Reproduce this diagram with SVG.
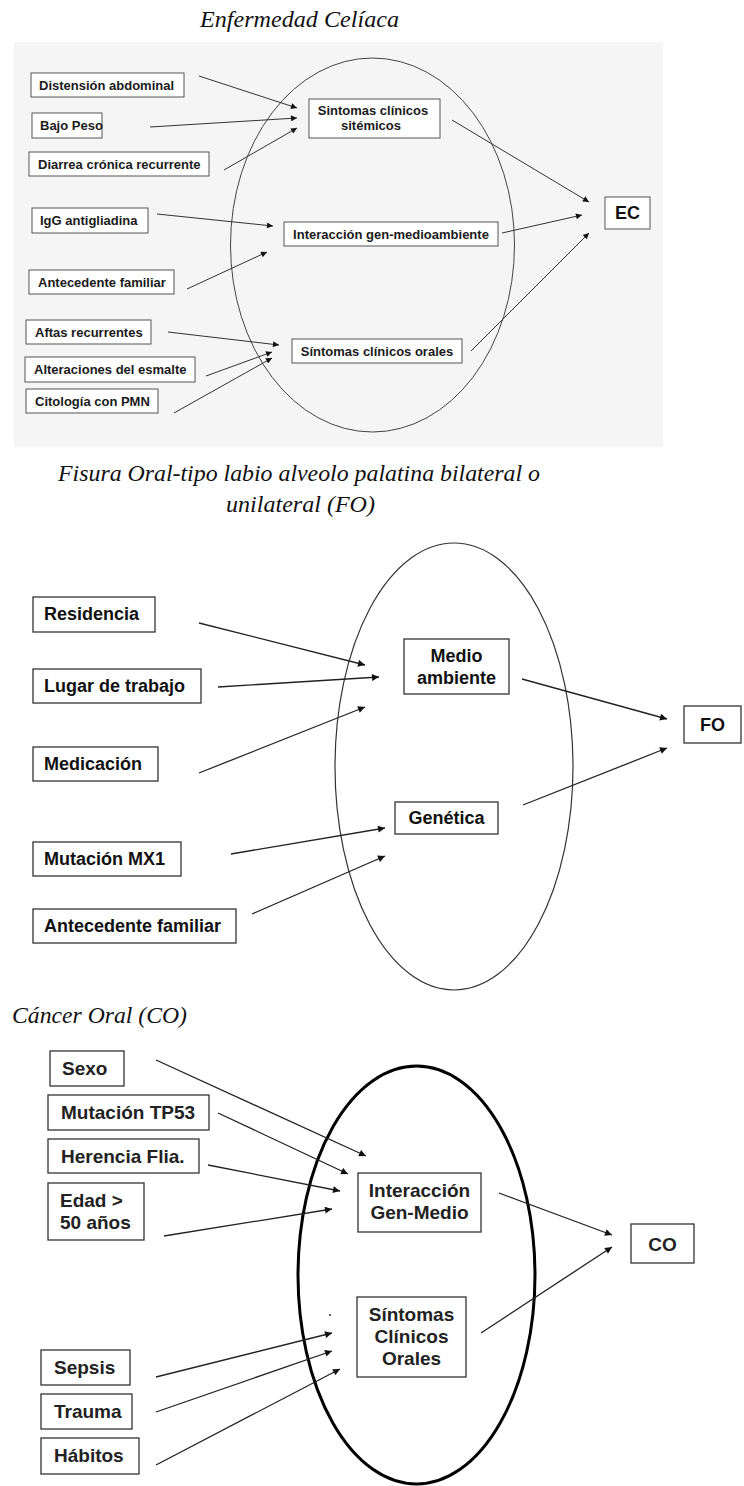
<svg xmlns="http://www.w3.org/2000/svg" width="744" height="1486" viewBox="0 0 744 1486">
<defs>
<style>
.title{font-family:"Liberation Serif","Times New Roman",serif;font-style:italic;font-size:24px;fill:#111}
.b1{fill:#fff;stroke:#555;stroke-width:1}
.b2{fill:#fff;stroke:#333;stroke-width:1.3}
.t1{font-family:"Liberation Sans",Arial,sans-serif;font-weight:bold;font-size:13px;fill:#1a1a1a}
.t2{font-family:"Liberation Sans",Arial,sans-serif;font-weight:bold;font-size:18px;fill:#111}
.t3{font-family:"Liberation Sans",Arial,sans-serif;font-weight:bold;font-size:19px;fill:#222}
.c{text-anchor:middle}
.a1{stroke:#333;stroke-width:1;fill:none;marker-end:url(#ah1)}
.a2{stroke:#222;stroke-width:1.3;fill:none;marker-end:url(#ah2)}
</style>
<marker id="ah1" viewBox="0 0 10 10" refX="10" refY="5" markerWidth="8" markerHeight="6" markerUnits="userSpaceOnUse" orient="auto"><path d="M0,0 L10,5 L0,10 z" fill="#111"/></marker>
<marker id="ah2" viewBox="0 0 10 10" refX="10" refY="5" markerWidth="10" markerHeight="7" markerUnits="userSpaceOnUse" orient="auto"><path d="M0,0 L10,5 L0,10 z" fill="#111"/></marker>
</defs>
<rect x="0" y="0" width="744" height="1486" fill="#fff"/>

<!-- Section 1: Enfermedad Celíaca -->
<text class="title" x="200" y="27" textLength="199" lengthAdjust="spacingAndGlyphs">Enfermedad Celíaca</text>
<rect x="14" y="42" width="649" height="405" fill="#f5f5f5"/>
<ellipse cx="372.5" cy="245" rx="142" ry="187" fill="none" stroke="#444" stroke-width="1"/>

<g id="connectors1">
<line class="a1" x1="199" y1="76" x2="297" y2="108"/>
<line class="a1" x1="150" y1="127" x2="297" y2="118"/>
<line class="a1" x1="224" y1="170" x2="297" y2="128"/>
<line class="a1" x1="157" y1="214" x2="273" y2="226"/>
<line class="a1" x1="187" y1="289" x2="267" y2="252"/>
<line class="a1" x1="168" y1="332" x2="279" y2="345"/>
<line class="a1" x1="206" y1="376" x2="272" y2="352"/>
<line class="a1" x1="174" y1="413" x2="272" y2="358"/>
<line class="a1" x1="452" y1="120" x2="589" y2="202"/>
<line class="a1" x1="502" y1="233" x2="582" y2="215"/>
<line class="a1" x1="471" y1="351" x2="589" y2="233"/>
</g>

<g id="n1-distension"><rect class="b1" x="31" y="73" width="153" height="24"/><text class="t1" x="39" y="90">Distensión abdominal</text></g>
<g id="n1-bajopeso"><rect class="b1" x="32" y="113" width="70" height="25"/><text class="t1" x="40" y="130">Bajo Peso</text></g>
<g id="n1-diarrea"><rect class="b1" x="29" y="152" width="180" height="24"/><text class="t1" x="38" y="169">Diarrea crónica recurrente</text></g>
<g id="n1-igg"><rect class="b1" x="32" y="208" width="116" height="25"/><text class="t1" x="40" y="225">IgG antigliadina</text></g>
<g id="n1-antecedente"><rect class="b1" x="29" y="270" width="145" height="24"/><text class="t1" x="38" y="287">Antecedente familiar</text></g>
<g id="n1-aftas"><rect class="b1" x="26" y="320" width="125" height="24"/><text class="t1" x="35" y="337">Aftas recurrentes</text></g>
<g id="n1-alteraciones"><rect class="b1" x="25" y="357" width="170" height="25"/><text class="t1" x="34" y="374">Alteraciones del esmalte</text></g>
<g id="n1-citologia"><rect class="b1" x="26" y="389" width="132" height="24"/><text class="t1" x="35" y="406">Citología con PMN</text></g>
<g id="n1-sistemicos"><rect class="b1" x="309" y="99" width="131" height="39"/><text class="t1 c" x="373" y="115">Sintomas clínicos</text><text class="t1 c" x="371" y="130">sitémicos</text></g>
<g id="n1-interaccion"><rect class="b1" x="284" y="222" width="214" height="24"/><text class="t1 c" x="391" y="239">Interacción gen-medioambiente</text></g>
<g id="n1-orales"><rect class="b1" x="292" y="339" width="170" height="24"/><text class="t1 c" x="377" y="356">Síntomas clínicos orales</text></g>
<g id="n1-ec"><rect class="b1" x="605" y="197" width="45" height="32"/><text class="t2 c" x="627.5" y="219">EC</text></g>

<!-- Section 2: Fisura Oral -->
<text class="title" x="58" y="481" textLength="482" lengthAdjust="spacingAndGlyphs">Fisura Oral-tipo labio alveolo palatina bilateral o</text>
<text class="title" x="226" y="512" textLength="149" lengthAdjust="spacingAndGlyphs">unilateral (FO)</text>
<ellipse cx="454" cy="766.5" rx="119" ry="223.5" fill="none" stroke="#333" stroke-width="1.2"/>

<g id="connectors2">
<line class="a2" x1="199" y1="623" x2="365" y2="665"/>
<line class="a2" x1="218" y1="687" x2="379" y2="677"/>
<line class="a2" x1="199" y1="773" x2="365" y2="707"/>
<line class="a2" x1="231" y1="854" x2="385" y2="828"/>
<line class="a2" x1="252" y1="914" x2="385" y2="856"/>
<line class="a2" x1="522" y1="679" x2="667" y2="719"/>
<line class="a2" x1="523" y1="805" x2="667" y2="748"/>
</g>

<g id="n2-residencia"><rect class="b2" x="33" y="597" width="122" height="35"/><text class="t2" x="44" y="620">Residencia</text></g>
<g id="n2-lugar"><rect class="b2" x="33" y="669" width="168" height="34"/><text class="t2" x="44" y="692">Lugar de trabajo</text></g>
<g id="n2-medicacion"><rect class="b2" x="33" y="747" width="125" height="34"/><text class="t2" x="44" y="770">Medicación</text></g>
<g id="n2-mutacion"><rect class="b2" x="33" y="842" width="148" height="34"/><text class="t2" x="44" y="865">Mutación MX1</text></g>
<g id="n2-antecedente"><rect class="b2" x="33" y="909" width="203" height="34"/><text class="t2" x="44" y="932">Antecedente familiar</text></g>
<g id="n2-medio"><rect class="b2" x="404" y="639" width="105" height="55"/><text class="t2 c" x="456.5" y="662">Medio</text><text class="t2 c" x="456.5" y="684">ambiente</text></g>
<g id="n2-genetica"><rect class="b2" x="395" y="802" width="103" height="32"/><text class="t2 c" x="446.5" y="824">Genética</text></g>
<g id="n2-fo"><rect class="b2" x="684" y="706" width="57" height="37"/><text class="t2 c" x="712.5" y="731">FO</text></g>

<!-- Section 3: Cáncer Oral -->
<text class="title" x="12" y="1023" textLength="175" lengthAdjust="spacingAndGlyphs">Cáncer Oral (CO)</text>
<ellipse cx="416.5" cy="1275" rx="118.5" ry="209" fill="none" stroke="#000" stroke-width="3"/>

<g id="connectors3">
<line class="a2" x1="156" y1="1060" x2="366" y2="1156"/>
<line class="a2" x1="218" y1="1113" x2="348" y2="1174"/>
<line class="a2" x1="208" y1="1165" x2="340" y2="1191"/>
<line class="a2" x1="164" y1="1236" x2="332" y2="1209"/>
<line class="a2" x1="156" y1="1377" x2="332" y2="1333"/>
<line class="a2" x1="156" y1="1412" x2="332" y2="1351"/>
<line class="a2" x1="156" y1="1465" x2="340" y2="1369"/>
<line class="a2" x1="499" y1="1193" x2="612" y2="1235"/>
<line class="a2" x1="481" y1="1333" x2="612" y2="1247"/>
</g>
<circle cx="330" cy="1315" r="1" fill="#333"/>

<g id="n3-sexo"><rect class="b2" x="50" y="1051" width="74" height="35"/><text class="t3" x="62" y="1075">Sexo</text></g>
<g id="n3-tp53"><rect class="b2" x="48" y="1095" width="161" height="35"/><text class="t3" x="61" y="1119">Mutación TP53</text></g>
<g id="n3-herencia"><rect class="b2" x="48" y="1139" width="151" height="34"/><text class="t3" x="61" y="1163">Herencia Flia.</text></g>
<g id="n3-edad"><rect class="b2" x="48" y="1183" width="96" height="57"/><text class="t3" x="60" y="1207">Edad &gt;</text><text class="t3" x="60" y="1229">50 años</text></g>
<g id="n3-sepsis"><rect class="b2" x="41" y="1350" width="89" height="35"/><text class="t3" x="54" y="1374">Sepsis</text></g>
<g id="n3-trauma"><rect class="b2" x="41" y="1394" width="91" height="35"/><text class="t3" x="54" y="1418">Trauma</text></g>
<g id="n3-habitos"><rect class="b2" x="41" y="1438" width="98" height="36"/><text class="t3" x="54" y="1462">Hábitos</text></g>
<g id="n3-interaccion"><rect class="b2" x="358" y="1173" width="123" height="59"/><text class="t3 c" x="419.5" y="1197">Interacción</text><text class="t3 c" x="419.5" y="1219">Gen-Medio</text></g>
<g id="n3-sintomas"><rect class="b2" x="357" y="1297" width="109" height="80"/><text class="t3 c" x="411.5" y="1321">Síntomas</text><text class="t3 c" x="411.5" y="1343">Clínicos</text><text class="t3 c" x="411.5" y="1365">Orales</text></g>
<g id="n3-co"><rect class="b2" x="631" y="1224" width="63" height="39"/><text class="t3 c" x="662.5" y="1251">CO</text></g>
</svg>
